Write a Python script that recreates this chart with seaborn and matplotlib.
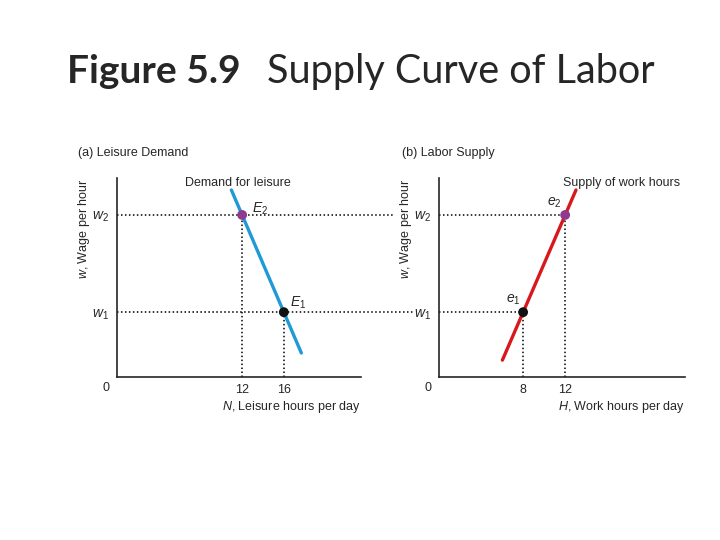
import numpy as np
import pandas as pd
import seaborn as sns
import matplotlib.pyplot as plt

sns.set_style('white')
plt.rcParams['font.family'] = ['Liberation Sans', 'DejaVu Sans']
plt.rcParams['mathtext.fontset'] = 'custom'
plt.rcParams['mathtext.rm'] = 'Liberation Sans'
plt.rcParams['mathtext.it'] = 'Liberation Sans:italic'

# wage levels (arbitrary units on the w axis)
w1 = 2.0
w2 = 5.0

# demand for leisure (panel a): hours N vs wage
leisure_N = [10.97, 17.68]
leisure_w = [5.77, 0.74]
leisure_pts_N = [16, 12]
leisure_pts_w = [w1, w2]

# supply of work hours (panel b): hours H vs wage
work_H = [6.03, 13.03]
work_w = [0.52, 5.77]
work_pts_H = [8, 12]
work_pts_w = [w1, w2]

pt_colors = ['#111111', '#8e3a8e']
blue = '#1f9ad6'
red = '#d7191c'

fig = plt.figure(figsize=(7.2, 5.4), dpi=100)
axL = fig.add_axes([117/720, 1-377/540, 244/720, 199/540])
axR = fig.add_axes([439/720, 1-377/540, 246/720, 199/540])

dot = dict(color='black', lw=1.1, ls=(0, (1, 1.6)), zorder=1)

for ax in (axL, axR):
    ax.set_xlim(0, 23.4)
    ax.set_ylim(0, 6.14)
    sns.despine(ax=ax)
    ax.spines['left'].set_linewidth(1.2)
    ax.spines['bottom'].set_linewidth(1.2)
    ax.set_yticks([w1, w2])
    ax.set_yticklabels(['$w_1$', '$w_2$'], fontsize=10)
    ax.tick_params(axis='x', length=0, pad=5, labelsize=9)
    ax.tick_params(axis='y', length=0, pad=6, labelsize=10)
    ax.text(-0.045, -0.055, '0', transform=ax.transAxes, ha='center', va='center', fontsize=9)
    ax.text(-0.135, 1.0, '$w$, Wage per hour', transform=ax.transAxes, rotation=90,
            ha='center', va='top', fontsize=9)

# panel a
axL.set_xticks(leisure_pts_N)
axL.set_xticklabels(['16', '12'])
axL.plot([0, 26.7], [w2, w2], clip_on=False, **dot)
axL.plot([0, 28.4], [w1, w1], clip_on=False, **dot)
for n, w in zip(leisure_pts_N, leisure_pts_w):
    axL.plot([n, n], [0, w], **dot)
sns.lineplot(x=leisure_N, y=leisure_w, ax=axL, color=blue, lw=2.4, zorder=2)
sns.scatterplot(x=leisure_pts_N, y=leisure_pts_w, ax=axL, hue=['1', '2'],
                palette=pt_colors, s=50, edgecolor='none', legend=False, zorder=3)
axL.text(11.6, 6.0, 'Demand for leisure', ha='center', va='center', fontsize=9)
axL.text(12.9, 5.2, '$E_2$', ha='left', va='center', fontsize=10)
axL.text(16.6, 2.3, '$E_1$', ha='left', va='center', fontsize=10)
axL.text(-0.16, 1.125, '(a) Leisure Demand', transform=axL.transAxes, ha='left', va='center', fontsize=9)
axL.text(1.0, -0.15, '$N$, Leisure hours per day', transform=axL.transAxes,
         ha='right', va='center', fontsize=9)

# panel b
axR.set_xticks(work_pts_H)
axR.set_xticklabels(['8', '12'])
for h, w in zip(work_pts_H, work_pts_w):
    axR.plot([0, h], [w, w], **dot)
    axR.plot([h, h], [0, w], **dot)
sns.lineplot(x=work_H, y=work_w, ax=axR, color=red, lw=2.4, zorder=2)
sns.scatterplot(x=work_pts_H, y=work_pts_w, ax=axR, hue=['1', '2'],
                palette=pt_colors, s=50, edgecolor='none', legend=False, zorder=3)
axR.text(17.4, 6.0, 'Supply of work hours', ha='center', va='center', fontsize=9)
axR.text(11.0, 5.37, '$e_2$', ha='center', va='center', fontsize=10)
axR.text(7.05, 2.38, '$e_1$', ha='center', va='center', fontsize=10)
axR.text(-0.15, 1.125, '(b) Labor Supply', transform=axR.transAxes, ha='left', va='center', fontsize=9)
axR.text(1.0, -0.15, '$H$, Work hours per day', transform=axR.transAxes,
         ha='right', va='center', fontsize=9)

# title
fig.text(67/720, 1-83/540, 'Figure 5.9', fontsize=28, fontweight='bold',
         family=['Lato', 'DejaVu Sans'], ha='left', va='baseline')
fig.text(267/720, 1-83/540, 'Supply Curve of Labor', fontsize=28.5,
         family=['Lato', 'DejaVu Sans'], ha='left', va='baseline')

fig.savefig('out.png', dpi=100)
